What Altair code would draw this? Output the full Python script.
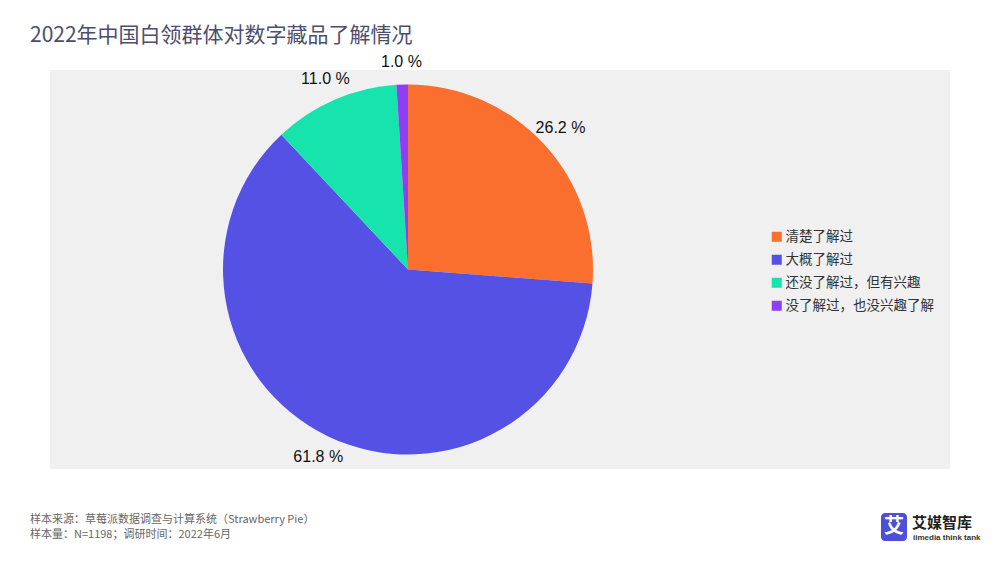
import altair as alt
import pandas as pd

categories = ["清楚了解过", "大概了解过", "还没了解过，但有兴趣", "没了解过，也没兴趣了解"]
values = [26.2, 61.8, 11.0, 1.0]
colors = ["#FA6E2E", "#5551E5", "#17E3AC", "#8E3EF5"]

title_text = "2022年中国白领群体对数字藏品了解情况"
footer_text = "样本来源：草莓派数据调查与计算系统（Strawberry Pie）\n样本量：N=1198；调研时间：2022年6月"

df = pd.DataFrame({
    "cat": categories,
    "value": values,
    "order": list(range(len(categories))),
    "label": [f"{v:.1f} %" for v in values],
})

CX, CY = 358, 199.5
CJK = "Noto Sans CJK SC"
LAT = "Liberation Sans"

base = alt.Chart(df).encode(
    theta=alt.Theta("value:Q", stack=True),
    order=alt.Order("order:Q", sort="ascending"),
)

pie = base.mark_arc(outerRadius=185).encode(
    x=alt.value(CX),
    y=alt.value(CY),
    color=alt.Color(
        "cat:N",
        scale=alt.Scale(domain=categories, range=colors),
        sort=categories,
        legend=alt.Legend(
            title=None,
            orient="none",
            legendX=720,
            legendY=160,
            symbolType="square",
            symbolSize=100,
            symbolStrokeWidth=0,
            labelFont=CJK,
            labelFontSize=13.5,
            labelColor="#333333",
            labelOffset=2,
            rowPadding=8,
        ),
    ),
)

labels = base.mark_text(radius=208, font=LAT, fontSize=16, color="#111111").encode(
    x=alt.value(CX),
    y=alt.value(CY),
    text="label:N",
)

footer = alt.Chart(pd.DataFrame({"t": [footer_text]})).mark_text(
    align="left", baseline="middle", font=CJK, fontSize=11, color="#666666",
    lineBreak="\n", lineHeight=15,
).encode(x=alt.value(-20), y=alt.value(450), text="t:N")

logo_box = alt.Chart(pd.DataFrame({"a": [1]})).mark_rect(
    color="#4C4FD8", cornerRadius=4
).encode(x=alt.value(831), x2=alt.value(857), y=alt.value(443), y2=alt.value(471))

logo_glyph = alt.Chart(pd.DataFrame({"t": ["艾"]})).mark_text(
    font=CJK, fontSize=20, fontWeight="bold", color="white", baseline="middle", align="center"
).encode(x=alt.value(844), y=alt.value(457), text="t:N")

logo_name = alt.Chart(pd.DataFrame({"t": ["艾媒智库"]})).mark_text(
    font=CJK, fontSize=15, fontWeight="bold", color="#222222", baseline="middle", align="left"
).encode(x=alt.value(862), y=alt.value(453), text="t:N")

logo_sub = alt.Chart(pd.DataFrame({"t": ["iimedia think tank"]})).mark_text(
    font=LAT, fontSize=8, fontWeight="bold", color="#333333", baseline="middle", align="left"
).encode(x=alt.value(863), y=alt.value(468), text="t:N")

chart = alt.layer(pie, labels, footer, logo_box, logo_glyph, logo_name, logo_sub).properties(
    width=900,
    height=399,
    padding={"left": 42, "top": 62, "right": 42, "bottom": 86},
    autosize=alt.AutoSizeParams(type="none"),
    title=alt.TitleParams(
        text=title_text,
        anchor="start",
        frame="group",
        dx=-20,
        offset=8,
        font=CJK,
        fontSize=21,
        fontWeight="normal",
        color="#4B4E6D",
    ),
    background="white",
).configure_view(fill="#F0F0F0", stroke=None)

chart.save("out.html", embed_options={"renderer": "svg", "actions": False})
